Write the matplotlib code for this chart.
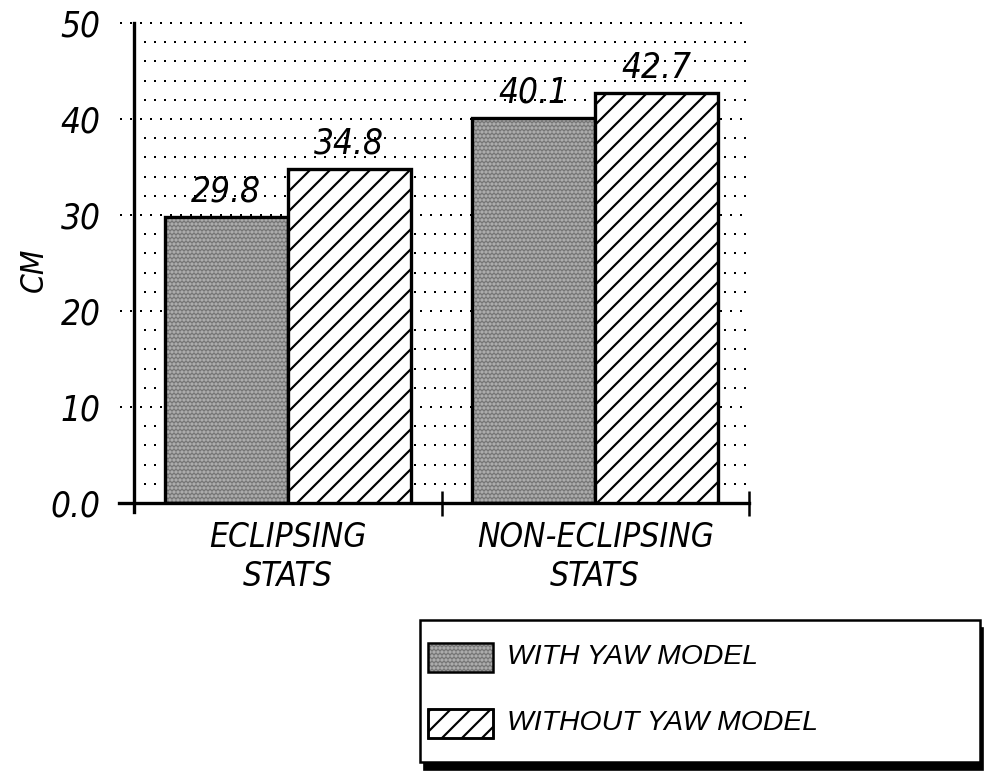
import os
import matplotlib
matplotlib.use('Agg')
import matplotlib.pyplot as plt
from matplotlib import font_manager as fm
from matplotlib.font_manager import FontProperties
from matplotlib.patches import Rectangle
import numpy as np

# data
categories = ['ECLIPSING\nSTATS', 'NON-ECLIPSING\nSTATS']
with_yaw = [29.8, 40.1]
without_yaw = [34.8, 42.7]
series_names = ['WITH YAW MODEL', 'WITHOUT YAW MODEL']
ytick_vals = [0, 10, 20, 30, 40, 50]
ytick_labels = ['0.0', '10', '20', '30', '40', '50']
minor_grid = [2, 4, 6, 8, 12, 14, 16, 18, 22, 24, 26, 28, 32, 34, 36, 38, 42, 44, 46, 48]

# look for a narrow italic face, fall back to plain italic
paths = [f.fname for f in fm.fontManager.ttflist]
def find_font(keys):
    for k in keys:
        for p in paths:
            if os.path.basename(p).lower().startswith(k.lower()):
                return p
    return None

narrow = find_font(['LiberationSansNarrow-Italic', 'DejaVuSansCondensed-Oblique',
                    'RobotoCondensed-Italic', 'OpenSansCondensed-Italic',
                    'OpenSans-CondensedItalic', 'NotoSans-CondensedItalic'])

def fprop(size):
    if narrow:
        return FontProperties(fname=narrow, size=size)
    return FontProperties(family='Liberation Sans', style='italic', size=size * 0.85)

plt.rcParams['font.family'] = ['Liberation Sans', 'DejaVu Sans']
plt.rcParams['hatch.linewidth'] = 1.3

W, H, DPI = 988, 772, 120
fig = plt.figure(figsize=(W / DPI, H / DPI), dpi=DPI)

def px(x, y):
    return x / W, 1 - y / H

ax = fig.add_axes([134 / W, 1 - 503 / H, (749 - 134) / W, (503 - 23) / H])
ax.set_xlim(-0.5, 1.5)
ax.set_ylim(0, 50)

x = np.arange(len(categories))
bw = 0.4
gray_col = '#767676'
stipple = '#c4c4c4'

# dotted grid, majors poke out left of the axis
ax.hlines(ytick_vals[1:], -0.545, 1.5, colors='black', linestyles=(0, (1, 4)),
          lw=1.2, clip_on=False, zorder=1)
ax.hlines(minor_grid, -0.5, 1.5, colors='black', linestyles=(0, (1, 4)),
          lw=1.2, zorder=1)

# stippled grey bars
ax.bar(x - bw / 2, with_yaw, bw, color=gray_col, edgecolor=stipple,
       hatch='.....', lw=0, zorder=2)
ax.bar(x - bw / 2, with_yaw, bw, fill=False, edgecolor='black', lw=2, zorder=3)
ax.bar(x + bw / 2, without_yaw, bw, color='white', edgecolor='black',
       hatch='//', lw=2, zorder=3)

for xi, v in zip(x - bw / 2, with_yaw):
    ax.annotate(f'{v:.1f}', (xi, v), xytext=(0, 5), textcoords='offset points',
                ha='center', va='bottom', fontproperties=fprop(21))
for xi, v in zip(x + bw / 2, without_yaw):
    ax.annotate(f'{v:.1f}', (xi, v), xytext=(0, 5), textcoords='offset points',
                ha='center', va='bottom', fontproperties=fprop(21))

ax.spines['top'].set_visible(False)
ax.spines['right'].set_visible(False)
ax.spines['left'].set_linewidth(2)
ax.spines['bottom'].set_linewidth(2)
ax.spines['left'].set_bounds(-0.9, 50)
ax.spines['bottom'].set_bounds(-0.55, 1.5)

ax.set_yticks(ytick_vals, ytick_labels)
ax.tick_params(axis='y', length=0, pad=20)
for t in ax.get_yticklabels():
    t.set_fontproperties(fprop(21))

ax.set_xticks([0.5, 1.5], ['', ''])
ax.set_xticks(x, categories, minor=True)
ax.tick_params(axis='x', which='major', direction='inout', length=15, width=1.5)
ax.tick_params(axis='x', which='minor', length=0, pad=11)
for t in ax.get_xticklabels(minor=True):
    t.set_fontproperties(fprop(20))
    t.set_linespacing(1.2)

ax.set_ylabel('CM', fontproperties=fprop(19))
ax.yaxis.set_label_coords(-0.137, 0.485)

# legend box with drop shadow
bx0, by0, bx1, by1 = 420, 620, 980, 762
fig.add_artist(Rectangle(px(bx0 + 4, by1 + 8), (bx1 - bx0 - 1) / W, (by1 - by0) / H,
                         transform=fig.transFigure, color='black', zorder=1))
fig.add_artist(Rectangle(px(bx0, by1), (bx1 - bx0) / W, (by1 - by0) / H,
                         transform=fig.transFigure, facecolor='white',
                         edgecolor='black', lw=1.5, zorder=2))
patch_w, patch_h = 65, 29
styles = [dict(facecolor=gray_col, edgecolor=stipple, hatch='.....', lw=0),
          dict(facecolor='white', edgecolor='black', hatch='//', lw=1.5)]
for i, (name, st) in enumerate(zip(series_names, styles)):
    cy = 657 + 66 * i
    rxy = px(428, cy + patch_h / 2)
    fig.add_artist(Rectangle(rxy, patch_w / W, patch_h / H,
                             transform=fig.transFigure, zorder=3, **st))
    fig.add_artist(Rectangle(rxy, patch_w / W, patch_h / H,
                             transform=fig.transFigure, fill=False,
                             edgecolor='black', lw=1.5, zorder=4))
    tx, ty = px(507, cy)
    fig.text(tx, ty, name, fontsize=17, va='center', ha='left',
             style='italic', zorder=5)

fig.savefig('out.png', dpi=DPI)
